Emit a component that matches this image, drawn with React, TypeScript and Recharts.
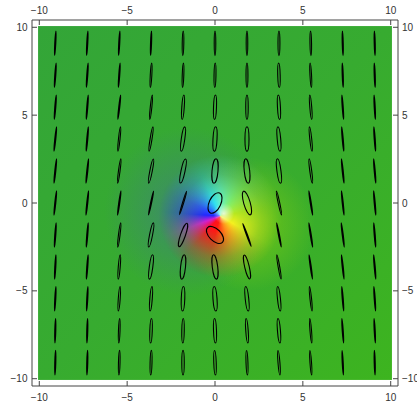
import React from 'react';
import { ScatterChart, Scatter, XAxis, YAxis, ReferenceArea } from 'recharts';

// ---- data ----
const GRID_X = [-9.09, -7.27, -5.45, -3.64, -1.82, 0, 1.82, 3.64, 5.45, 7.27, 9.09];
const GRID_Y = [9.09, 7.27, 5.45, 3.64, 1.82, 0, -1.82, -3.64, -5.45, -7.27, -9.09];
const AXIS_TICKS = [-10, -5, 0, 5, 10];
const DOMAIN: [number, number] = [-10.415, 10.415];
const FIELD_EXTENT: [number, number] = [-10.07, 10.07];

// tilt of each ellipse's long axis from vertical, degrees (positive = top leans right)
const TILT_DEG = [
  [3, 3, 3, 2, 1, 0, 0, 0, -1, -1.5, -1.5],
  [4, 4, 4, 3, 2, 1, 0, -1.5, -3, -2, -2],
  [4.5, 4.5, 6.5, 6, 4, 2, 0, -3, -4.5, -4, -3],
  [6, 5, 6, 9, 8, 3, 0, -5, -6, -5, -4],
  [6, 6, 7.5, 11, 12, 5, -6, -7.5, -7.5, -6, -5],
  [6, 6, 8, 12, 17, 25, -16, -12, -9, -6, -5],
  [4, 4.5, 7, 11, 19, -45, -20, -11, -9, -7, -4.5],
  [3, 4, 4.5, 7.5, 6, -7, -13, -10, -8, -6, -5],
  [3, 3, 4, 4.5, 2, -4, -6, -6, -6, -4.5, -4],
  [1.5, 1.5, 2, 2, 1, -2, -4, -4.5, -4.5, -4, -3],
  [1.5, 1.5, 1.5, 1.5, 0, -2, -2, -4.5, -4, -3, -1.5],
];

// full minor axis length (data units)
const MINOR_AXIS = [
  [0.06, 0.06, 0.06, 0.06, 0.09, 0.09, 0.09, 0.11, 0.09, 0.06, 0.06],
  [0.06, 0.06, 0.06, 0.09, 0.09, 0.11, 0.11, 0.14, 0.09, 0.06, 0.06],
  [0.06, 0.06, 0.06, 0.09, 0.14, 0.17, 0.14, 0.17, 0.11, 0.06, 0.06],
  [0.06, 0.06, 0.09, 0.11, 0.2, 0.23, 0.23, 0.2, 0.11, 0.06, 0.06],
  [0.06, 0.06, 0.09, 0.14, 0.23, 0.34, 0.31, 0.23, 0.11, 0.06, 0.06],
  [0.06, 0.06, 0.06, 0.06, 0.07, 0.66, 0.37, 0.09, 0.06, 0.06, 0.06],
  [0.06, 0.06, 0.09, 0.17, 0.28, 0.68, 0.06, 0.06, 0.06, 0.06, 0.06],
  [0.06, 0.06, 0.11, 0.2, 0.28, 0.31, 0.26, 0.09, 0.06, 0.06, 0.06],
  [0.06, 0.06, 0.11, 0.14, 0.2, 0.23, 0.2, 0.17, 0.09, 0.06, 0.06],
  [0.06, 0.06, 0.09, 0.14, 0.14, 0.17, 0.14, 0.17, 0.09, 0.06, 0.06],
  [0.06, 0.06, 0.09, 0.11, 0.14, 0.14, 0.11, 0.11, 0.09, 0.06, 0.06],
];

// full major axis length (data units)
const MAJOR_AXIS = [
  [1.4, 1.4, 1.4, 1.4, 1.4, 1.4, 1.4, 1.4, 1.4, 1.4, 1.4],
  [1.4, 1.4, 1.4, 1.4, 1.4, 1.4, 1.4, 1.4, 1.4, 1.4, 1.4],
  [1.4, 1.4, 1.4, 1.4, 1.4, 1.4, 1.4, 1.4, 1.4, 1.4, 1.4],
  [1.4, 1.4, 1.4, 1.4, 1.4, 1.4, 1.4, 1.4, 1.4, 1.4, 1.4],
  [1.4, 1.4, 1.4, 1.4, 1.4, 1.4, 1.4, 1.4, 1.4, 1.4, 1.4],
  [1.4, 1.4, 1.4, 1.4, 1.4, 1.25, 1.4, 1.4, 1.4, 1.4, 1.4],
  [1.4, 1.4, 1.4, 1.4, 1.4, 1.2, 1.4, 1.4, 1.4, 1.4, 1.4],
  [1.4, 1.4, 1.4, 1.4, 1.4, 1.4, 1.4, 1.4, 1.4, 1.4, 1.4],
  [1.4, 1.4, 1.4, 1.4, 1.4, 1.4, 1.4, 1.4, 1.4, 1.4, 1.4],
  [1.4, 1.4, 1.4, 1.4, 1.4, 1.4, 1.4, 1.4, 1.4, 1.4, 1.4],
  [1.4, 1.4, 1.4, 1.4, 1.4, 1.4, 1.4, 1.4, 1.4, 1.4, 1.4],
];

// background colour-field features (data coordinates)
const HUE_CENTER = [0.3, -0.75];
const HIGHLIGHT_CENTER = [0.5, -0.6];
const BLUE_TINT_CENTER = [-1.5, -0.5];
const YELLOW_TINT_CENTER = [1.9, -1.2];

// ---- layout ----
const W = 417;
const H = 406;
const PLOT = 366;
const UNIT_PX = PLOT / (DOMAIN[1] - DOMAIN[0]);

const cells = GRID_Y.flatMap((y, j) =>
  GRID_X.map((x, i) => ({
    x,
    y,
    tilt: TILT_DEG[j][i],
    minor: MINOR_AXIS[j][i],
    major: MAJOR_AXIS[j][i],
  }))
);

const EllipseShape = (props: any) => {
  const { cx, cy, payload } = props;
  if (cx == null || cy == null) return <g />;
  const rx = (payload.minor * UNIT_PX) / 2;
  const ry = (payload.major * UNIT_PX) / 2;
  return (
    <ellipse
      cx={cx}
      cy={cy}
      rx={rx}
      ry={ry}
      fill="none"
      stroke="#000"
      strokeWidth={1.1}
      transform={`rotate(${payload.tilt} ${cx} ${cy})`}
    />
  );
};

const BackgroundShape = (props: any) => {
  const { x, y, width, height } = props;
  const span = FIELD_EXTENT[1] - FIELD_EXTENT[0];
  const k = width / span;
  const px = (v: number) => (v - FIELD_EXTENT[0]) * k;
  const py = (v: number) => (FIELD_EXTENT[1] - v) * (height / span);
  const hx = px(HUE_CENTER[0]);
  const hy = py(HUE_CENTER[1]);
  const wx = px(HIGHLIGHT_CENTER[0]);
  const wy = py(HIGHLIGHT_CENTER[1]);
  const bx = px(BLUE_TINT_CENTER[0]);
  const by = py(BLUE_TINT_CENTER[1]);
  const yx = px(YELLOW_TINT_CENTER[0]);
  const yy = py(YELLOW_TINT_CENTER[1]);
  const conic = `conic-gradient(from 0deg at ${hx}px ${hy}px, #60f0c8 0deg, #80f070 35deg, #b8e820 80deg, #f4f020 120deg, #ff8a1c 160deg, #ff1a12 195deg, #ff1020 222deg, #d020d0 250deg, #2228ff 274deg, #2a50ff 295deg, #30e0f0 336deg, #60f0c8 360deg)`;
  const mask = `radial-gradient(circle at ${hx}px ${hy}px, #000 0px, #000 ${0.85 * k}px, rgba(0,0,0,0.72) ${1.5 * k}px, rgba(0,0,0,0.32) ${2.35 * k}px, rgba(0,0,0,0) ${3.5 * k}px)`;
  return (
    <g>
      <defs>
        <linearGradient id="fieldGreen" x1="0" y1="0" x2="1" y2="1">
          <stop offset="0%" stopColor="#33a538" />
          <stop offset="50%" stopColor="#37ab30" />
          <stop offset="100%" stopColor="#3db41f" />
        </linearGradient>
      </defs>
      <rect x={x} y={y} width={width} height={height} fill="url(#fieldGreen)" />
      <foreignObject x={x} y={y} width={width} height={height}>
        <div style={{ position: 'relative', width, height, overflow: 'hidden' }}>
          <div
            style={{
              position: 'absolute',
              inset: 0,
              background: `radial-gradient(circle at ${bx}px ${by}px, rgba(70,105,170,0.6) 0px, rgba(70,105,170,0.3) ${2 * k}px, rgba(70,105,170,0) ${4.8 * k}px)`,
            }}
          />
          <div
            style={{
              position: 'absolute',
              inset: 0,
              background: `radial-gradient(circle at ${yx}px ${yy}px, rgba(175,225,0,0.6) 0px, rgba(175,225,0,0.28) ${1.7 * k}px, rgba(175,225,0,0) ${3.8 * k}px)`,
            }}
          />
          <div
            style={{
              position: 'absolute',
              inset: 0,
              background: conic,
              maskImage: mask,
              WebkitMaskImage: mask,
            }}
          />
          <div
            style={{
              position: 'absolute',
              inset: 0,
              background: `radial-gradient(circle at ${wx}px ${wy}px, rgba(255,255,255,0.75) 0px, rgba(255,255,255,0.35) ${0.3 * k}px, rgba(255,255,255,0) ${0.6 * k}px)`,
            }}
          />
        </div>
      </foreignObject>
    </g>
  );
};

const fmt = (v: number) => (v < 0 ? `\u2212${-v}` : `${v}`);
const tickStyle = { fontSize: 10, fill: '#333', fontFamily: 'Liberation Sans, Arial, sans-serif' };
const AXIS_COLOR = '#444';

export default function App() {
  return (
    <div style={{ position: 'absolute', left: 0, top: 0, width: W, height: H }}>
      <ScatterChart width={W} height={H} margin={{ top: 0, right: 0, bottom: 0, left: 0 }}>
        <XAxis
          xAxisId="b"
          type="number"
          dataKey="x"
          orientation="bottom"
          domain={DOMAIN}
          ticks={AXIS_TICKS}
          allowDataOverflow
          height={20}
          tickSize={-5}
          tickMargin={12.5}
          interval={0}
          stroke={AXIS_COLOR}
          tick={tickStyle}
          tickFormatter={fmt}
        />
        <XAxis
          xAxisId="t"
          type="number"
          dataKey="x"
          orientation="top"
          domain={DOMAIN}
          ticks={AXIS_TICKS}
          allowDataOverflow
          height={20}
          tickSize={-5}
          tickMargin={10.7}
          interval={0}
          stroke={AXIS_COLOR}
          tick={tickStyle}
          tickFormatter={fmt}
        />
        <YAxis
          yAxisId="l"
          type="number"
          dataKey="y"
          orientation="left"
          domain={DOMAIN}
          ticks={AXIS_TICKS}
          allowDataOverflow
          width={32}
          tickSize={-5}
          tickMargin={9.5}
          interval={0}
          stroke={AXIS_COLOR}
          tick={tickStyle}
          tickFormatter={fmt}
        />
        <YAxis
          yAxisId="r"
          type="number"
          dataKey="y"
          orientation="right"
          domain={DOMAIN}
          ticks={AXIS_TICKS}
          allowDataOverflow
          width={19}
          tickSize={-5}
          tickMargin={9}
          interval={0}
          stroke={AXIS_COLOR}
          tick={tickStyle}
          tickFormatter={fmt}
        />
        <ReferenceArea
          xAxisId="b"
          yAxisId="l"
          x1={FIELD_EXTENT[0]}
          x2={FIELD_EXTENT[1]}
          y1={FIELD_EXTENT[0]}
          y2={FIELD_EXTENT[1]}
          ifOverflow="visible"
          shape={BackgroundShape}
          zIndex={-200}
        />
        <Scatter
          data={cells}
          xAxisId="b"
          yAxisId="l"
          shape={EllipseShape}
          isAnimationActive={false}
        />
      </ScatterChart>
    </div>
  );
}
